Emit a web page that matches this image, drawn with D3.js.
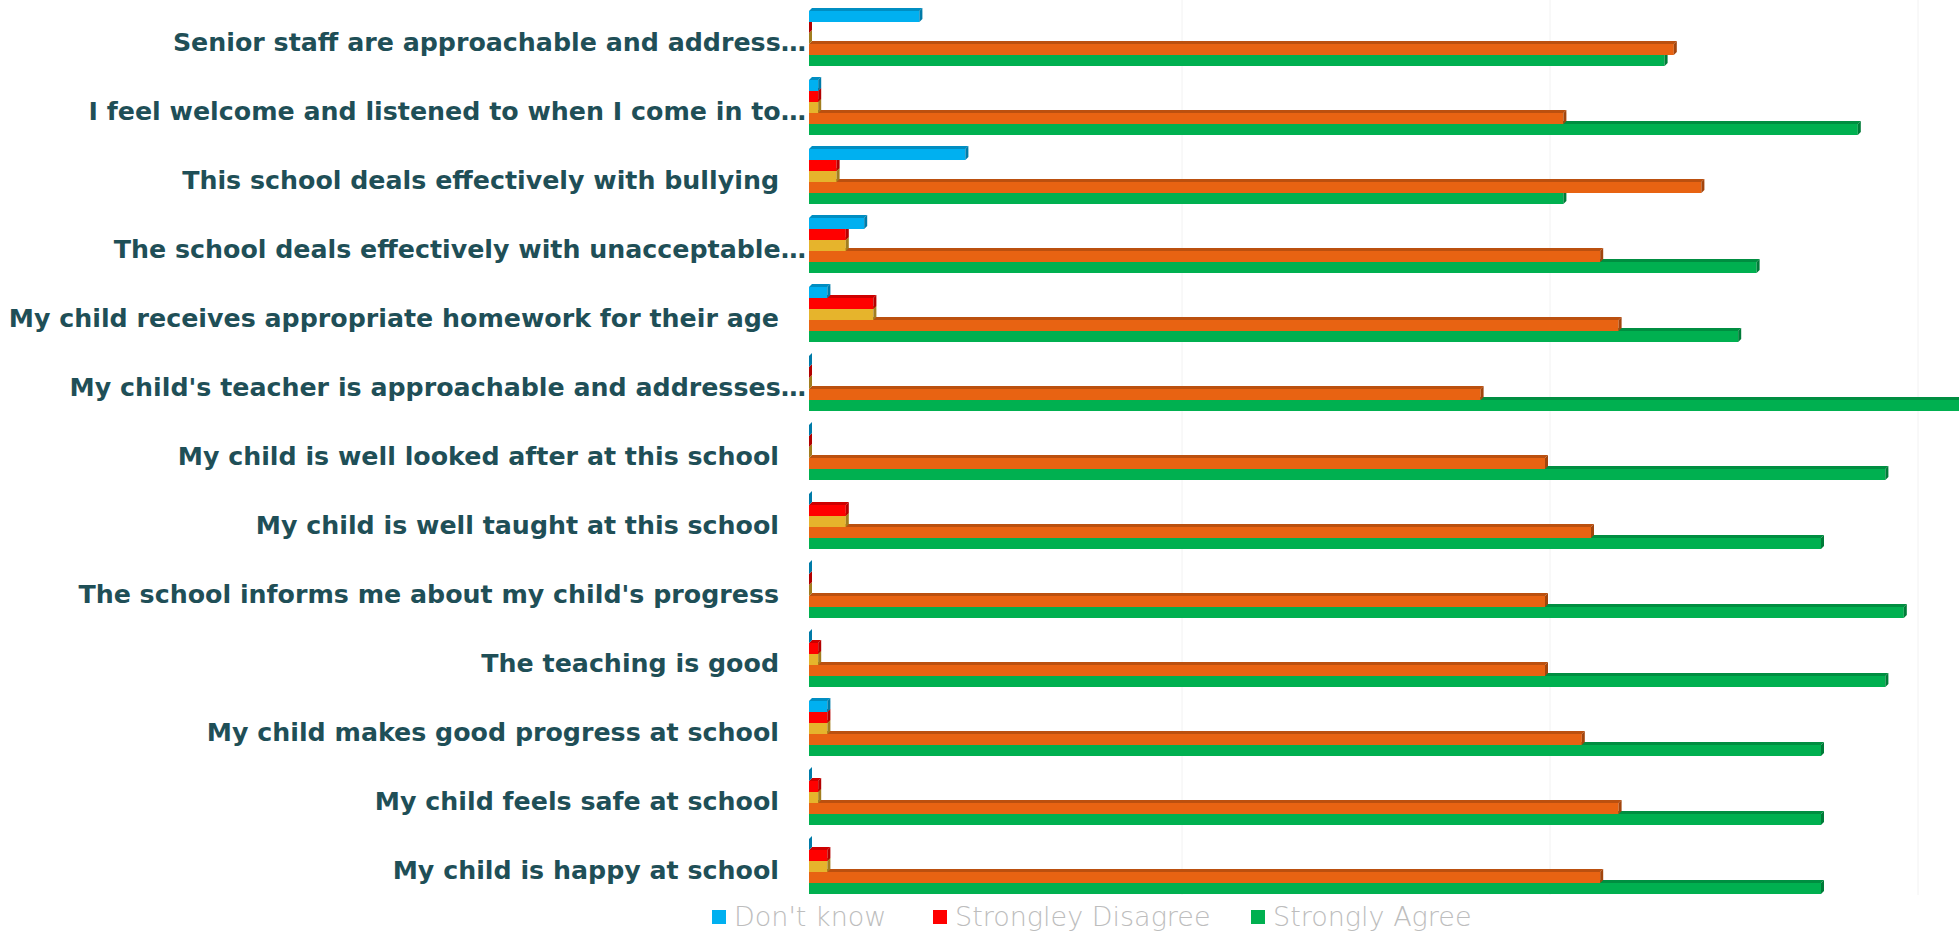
<!DOCTYPE html>
<html>
<head>
<meta charset="utf-8">
<script src="https://cdn.jsdelivr.net/npm/d3@7"></script>
<style>
  body { margin: 0; background: #fff; }
  .label { font-family: "DejaVu Sans", sans-serif; font-weight: 700; fill: #1f4f57; }
  .legend text { font-family: "DejaVu Sans", sans-serif; font-weight: 200; fill: #bdbdbd; }
</style>
</head>
<body>
<svg></svg>
<script>
const SVGsize = {w: 1959, h: 933};
const svg = d3.select('svg')
    .attr('width', SVGsize.w)
    .attr('height', SVGsize.h);

// categories, top to bottom as drawn
const categories = [
    'Senior staff are approachable and address…',
    'I feel welcome and listened to when I come in to…',
    'This school deals effectively with bullying',
    'The school deals effectively with unacceptable…',
    'My child receives appropriate homework for their age',
    "My child's teacher is approachable and addresses…",
    'My child is well looked after at this school',
    'My child is well taught at this school',
    "The school informs me about my child's progress",
    'The teaching is good',
    'My child makes good progress at school',
    'My child feels safe at school',
    'My child is happy at school'
];

const seriesNames = ["Don't know", 'Strongley Disagree', 'Disagree', 'Agree', 'Strongly Agree'];
const legendNames = ["Don't know", 'Strongley Disagree', 'Strongly Agree'];
const gridTicks = [40, 80, 120, 160];

const dontKnow         = [12, 1, 17, 6, 2, 0, 0, 0, 0, 0, 2, 0, 0];
const stronglyDisagree = [0, 1, 3, 4, 7, 0, 0, 4, 0, 1, 2, 1, 2];
const disagree         = [0, 1, 3, 4, 7, 0, 0, 4, 0, 1, 2, 1, 2];
const agree            = [94, 82, 97, 86, 88, 73, 80, 85, 80, 80, 84, 88, 86];
const stronglyAgree    = [93, 114, 82, 103, 101, 127, 117, 110, 119, 117, 110, 110, 110];

const colors = {
    "Don't know": '#00b0f0',
    'Strongley Disagree': '#ff0000',
    'Disagree': '#e6b42c',
    'Agree': '#e86312',
    'Strongly Agree': '#00b050'
};

const seriesValues = [dontKnow, stronglyDisagree, disagree, agree, stronglyAgree];
const data = categories.map((c, i) => {
    let row = {cat: c};
    seriesNames.forEach((s, j) => row[s] = seriesValues[j][i]);
    return row;
});

const depth = 3;

const scaleX = d3.scaleLinear()
    .domain([0, 160])
    .range([809, 809 + 4 * 368]);

const scaleY = d3.scaleBand()
    .domain(categories)
    .range([1, 898])
    .paddingInner(0.203)
    .paddingOuter(0.1015);

const scaleS = d3.scaleBand()
    .domain(seriesNames)
    .range([0, scaleY.bandwidth()]);

// faint gridlines on the back wall
svg.append('g').selectAll('line')
    .data(gridTicks)
    .enter()
    .append('line')
    .attr('x1', d => scaleX(d) + depth + 2)
    .attr('x2', d => scaleX(d) + depth + 2)
    .attr('y1', 0)
    .attr('y2', 895)
    .attr('stroke', '#f2f2f2')
    .attr('stroke-width', 1);

const rowG = svg.append('g').selectAll('g.row')
    .data(data)
    .enter()
    .append('g')
    .classed('row', true)
    .attr('transform', d => `translate(0, ${scaleY(d.cat)})`);

// draw bottom series first so upper bars cover the top faces below them
const drawOrder = seriesNames.slice().reverse();
rowG.each(function(d) {
    const g = d3.select(this);
    drawOrder.forEach(s => {
        const x0 = scaleX(0);
        const x1 = scaleX(d[s]);
        const y = scaleS(s) + depth;
        const h = scaleS.bandwidth();
        const base = d3.color(colors[s]);
        // top face
        g.append('path')
            .attr('d', `M${x0},${y} L${x0 + depth},${y - depth} L${x1 + depth},${y - depth} L${x1},${y} Z`)
            .attr('fill', base.darker(0.6));
        // front face
        g.append('rect')
            .attr('x', x0)
            .attr('y', y)
            .attr('width', Math.max(0, x1 - x0))
            .attr('height', h)
            .attr('fill', base);
        // side face
        g.append('path')
            .attr('d', `M${x1},${y} L${x1 + depth},${y - depth} L${x1 + depth},${y + h - depth} L${x1},${y + h} Z`)
            .attr('fill', base.darker(1));
    });
});

// category labels
svg.append('g').selectAll('text')
    .data(categories)
    .enter()
    .append('text')
    .classed('label', true)
    .attr('x', d => d.endsWith('…') ? 806 : 779)
    .attr('y', d => scaleY(d) + scaleY.bandwidth() / 2 + 8)
    .attr('text-anchor', 'end')
    .attr('dominant-baseline', 'middle')
    .attr('font-size', 25.3)
    .text(d => d);

// legend
const legendX = [712, 933, 1251];
const legend = svg.append('g').classed('legend', true);
legendNames.forEach((s, i) => {
    legend.append('rect')
        .attr('x', legendX[i])
        .attr('y', 910)
        .attr('width', 14)
        .attr('height', 14)
        .attr('fill', colors[s]);
    legend.append('text')
        .attr('x', legendX[i] + 22)
        .attr('y', 926)
        .attr('font-size', 27)
        .text(s);
});
</script>
</body>
</html>
